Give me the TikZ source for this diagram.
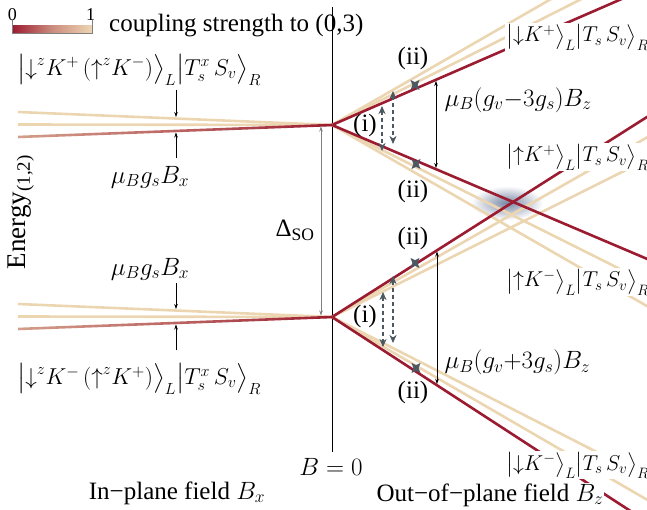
\documentclass[tikz,border=0pt]{standalone}
\usepackage{fix-cm}
\usepackage{amsmath}
\usepackage{fontspec}
\setmainfont{Liberation Serif}
\usetikzlibrary{arrows.meta}
\definecolor{wine}{RGB}{155,27,48}
\definecolor{wheat}{RGB}{236,214,178}
\definecolor{slate}{RGB}{76,88,98}
\definecolor{haze}{RGB}{120,136,165}
\newcommand\dn{{\downarrow}}
\newcommand\up{{\uparrow}}
\tikzset{
  level/.style={line width=2.6pt},
  ket/.style={fill=white, inner sep=1pt, anchor=west, font=\fontsize{23}{28}\selectfont},
  rket/.style={ket, font=\fontsize{21.5}{26}\selectfont},
  tip/.style={-{Stealth[length=5pt,width=3.5pt]}, line width=0.6pt},
  gap/.style={{Stealth[length=5pt,width=3.5pt]}-{Stealth[length=5pt,width=3.5pt]}, line width=0.6pt},
  hop/.style={{Stealth[length=8pt,width=7pt,inset=2.5pt]}-{Stealth[length=8pt,width=7pt,inset=2.5pt]},
    slate, line width=1.3pt, dash pattern=on 4pt off 3pt},
  anticross/.pic={\fill[slate] (-4.5,-5) -- (0,-2.8) -- (4.5,-5) -- (2.6,0) -- (4.5,5) -- (0,2.8) -- (-4.5,5) -- (-2.6,0) -- cycle;}
}
\begin{document}
\begin{tikzpicture}[x=1pt, y=-1pt, font=\fontsize{25}{30}\selectfont]
\useasboundingbox (0,0) rectangle (647,510);
\coordinate (U) at (332,125);
\coordinate (L) at (332,317);
\coordinate (btop) at (332,7);
\coordinate (bbot) at (332,452);
\shade[inner color=haze, outer color=white] (507,203) ellipse (36 and 17);
\draw[line width=0.6pt] (btop) -- (bbot);
\begin{scope}
\clip (0,0) rectangle (647,510);
\foreach \s in {-0.505,-0.575,0.5,0.575}
  \draw[level, wheat] (U) -- ++(330,{330*\s});
\foreach \s in {-0.57,-0.5,0.58,0.51}
  \draw[level, wheat] (L) -- ++(330,{330*\s});
\foreach \s in {-0.435,0.425}
  \draw[level, wine] (U) -- ++(330,{330*\s});
\foreach \s in {-0.635,0.65}
  \draw[level, wine] (L) -- ++(330,{330*\s});
\end{scope}
\foreach \c in {U,L}{
  \draw[level, wheat] (\c) -- ++(-314,-13);
  \draw[level, wheat] (\c) -- ++(-314,-0.5);
  \shade[left color=wine!30!wheat, right color=wine, middle color=wine!60!wheat]
    (\c) ++(-314,10.7) -- ++(314,-12) -- ++(0,2.6) -- ++(-314,12) -- cycle;
}
\shade[left color=wine, right color=wheat, middle color=wine!40!wheat] (12,26) rectangle (92,33);
\draw[gray, line width=0.6pt] (12,20) -- (12,33) -- (92,33) -- (92,20);
\node[font=\fontsize{18}{20}\selectfont] (scale0) at (12.5,14.5) {0};
\node[font=\fontsize{18}{20}\selectfont] (scale1) at (90.5,14.5) {1};
\node[anchor=west, inner sep=0pt] (coupling) at (109,26) {coupling strength to (0,3)};
\coordinate (a1) at (176,90);
\coordinate (a2) at (176,117);
\coordinate (a3) at (176,158);
\coordinate (a4) at (176,132.5);
\coordinate (a5) at (176,283);
\coordinate (a6) at (176,309);
\coordinate (a7) at (176,350);
\coordinate (a8) at (176,324.5);
\foreach \f/\t in {a1/a2,a3/a4,a5/a6,a7/a8}
  \draw[tip] (\f) -- (\t);
\coordinate (d1) at (321,126.5);
\coordinate (d2) at (321,315.5);
\draw[gap, gray] (d1) -- (d2);
\coordinate (z1) at (436,81);
\coordinate (z2) at (436,168);
\coordinate (z3) at (437,251.5);
\coordinate (z4) at (437,384);
\draw[gap] (z1) -- (z2);
\draw[gap] (z3) -- (z4);
\coordinate (h1) at (382,106);
\coordinate (h2) at (382,151);
\coordinate (h3) at (393,91);
\coordinate (h4) at (393,144);
\coordinate (h5) at (383,292);
\coordinate (h6) at (383,347);
\coordinate (h7) at (393,276);
\coordinate (h8) at (393,343);
\foreach \f/\t in {h1/h2,h3/h4,h5/h6,h7/h8}
  \draw[hop] (\f) -- (\t);
\foreach \m in {(415,85),(416,164),(415,263),(416,368)}
  \pic at \m {anticross};
\node[ket] (leftup) at (16,70) {$\bigl|\dn^{z}K^{+}\,(\up^{z}K^{-})\bigr\rangle_{L}\bigl|T_{s}^{x}\,S_{v}\bigr\rangle_{R}$};
\node[ket] (leftdn) at (16,379) {$\bigl|\dn^{z}K^{-}\,(\up^{z}K^{+})\bigr\rangle_{L}\bigl|T_{s}^{x}\,S_{v}\bigr\rangle_{R}$};
\node[rket] (dKp) at (505,37) {$\bigl|\dn K^{+}\bigr\rangle_{L}\bigl|T_{s}\,S_{v}\bigr\rangle_{R}$};
\node[rket] (uKp) at (505,157) {$\bigl|\up K^{+}\bigr\rangle_{L}\bigl|T_{s}\,S_{v}\bigr\rangle_{R}$};
\node[rket] (uKm) at (505,282) {$\bigl|\up K^{-}\bigr\rangle_{L}\bigl|T_{s}\,S_{v}\bigr\rangle_{R}$};
\node[rket] (dKm) at (505,465) {$\bigl|\dn K^{-}\bigr\rangle_{L}\bigl|T_{s}\,S_{v}\bigr\rangle_{R}$};
\node (gsu) at (150,177) {$\mu_{B}g_{s}B_{x}$};
\node (gsl) at (150,269) {$\mu_{B}g_{s}B_{x}$};
\node (dso) at (295,230) {Δ\textsubscript{SO}};
\node (bzero) at (331,467) {$B=0$};
\node[anchor=west] (zu) at (441,100) {$\mu_{B}(g_{v}{-}3g_{s})B_{z}$};
\node[anchor=west] (zl) at (441,362) {$\mu_{B}(g_{v}{+}3g_{s})B_{z}$};
\node (ii1) at (413,58) {(ii)};
\node (ii2) at (413,191) {(ii)};
\node (ii3) at (413,238) {(ii)};
\node (ii4) at (413,392) {(ii)};
\node (i1) at (365,125) {(i)};
\node (i2) at (365,316) {(i)};
\node (inplane) at (177,493) {In−plane field $B_{x}$};
\node[fill=white, inner sep=1pt] (outplane) at (490,495) {Out−of−plane field $B_{z}$};
\node[rotate=90, font=\fontsize{27}{30}\selectfont] (energy) at (21,212) {Energy\textsubscript{(1,2)}};
\end{tikzpicture}
\end{document}
